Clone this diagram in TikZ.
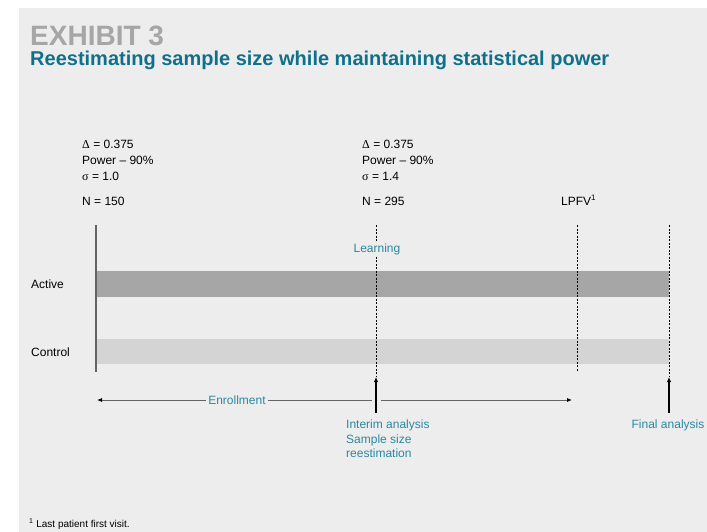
\documentclass[tikz,border=0pt]{standalone}
\usepackage{fontspec}
\setmainfont{Liberation Sans}
\newfontfamily\greekfont{Liberation Serif}
\usetikzlibrary{arrows.meta,positioning}
\definecolor{panel}{RGB}{237,237,237}
\definecolor{exhgray}{RGB}{166,166,166}
\definecolor{titleteal}{RGB}{16,112,138}
\definecolor{labelteal}{RGB}{42,136,162}
\definecolor{activebar}{RGB}{166,166,166}
\definecolor{controlbar}{RGB}{212,212,212}
\definecolor{axisgray}{RGB}{100,100,100}

\begin{document}
\begin{tikzpicture}[x=1pt,y=-1pt,
    txt/.style={anchor=base west,inner sep=0pt,font=\fontsize{12}{14}\selectfont},
    lbl/.style={txt,text=labelteal},
    milestone/.style={draw=black,dash pattern=on 2pt off 1.5pt,line width=0.8pt},
    event/.style={-{Latex[length=5pt,width=4.5pt]},line width=1.4pt},
    span/.style={draw=axisgray,line width=0.8pt}
    ]
    \useasboundingbox (0,0) rectangle (707,532);
    \fill[white] (0,0) rectangle (707,532);
    \fill[panel] (19,8) rectangle (707,532);

    % Heading
    \node[txt,font=\fontsize{28}{30}\selectfont\bfseries,text=exhgray] (exh) at (30,46) {EXHIBIT 3};
    \node[txt,font=\fontsize{20}{22}\selectfont\bfseries,text=titleteal] (title) at (30,66) {Reestimating sample size while maintaining statistical power};

    % Design at start
    \node[txt] (d1) at (82,149) {{\greekfont Δ} = 0.375};
    \node[txt] (p1) at (82,164.5) {Power – 90\%};
    \node[txt] (s1) at (82,180) {{\greekfont σ} = 1.0};
    \node[txt] (n1) at (82,205) {N = 150};

    % Design at interim
    \node[txt] (d2) at (362,149) {{\greekfont Δ} = 0.375};
    \node[txt] (p2) at (362,164.5) {Power – 90\%};
    \node[txt] (s2) at (362,180) {{\greekfont σ} = 1.4};
    \node[txt] (n2) at (362,205) {N = 295};
    \node[txt] (lpfv) at (561,205) {LPFV\textsuperscript{1}};

    % Arms
    \fill[activebar] (96,271) rectangle (669,297);
    \fill[controlbar] (96,339) rectangle (669,364);
    \draw[axisgray,line width=1.2pt] (96,225) -- (96,372);
    \node[txt] (active) at (31,288) {Active};
    \node[txt] (control) at (31,356) {Control};

    % Milestones
    \coordinate (top1) at (376,225);
    \coordinate (bot1) at (376,377);
    \coordinate (top2) at (577,225);
    \coordinate (bot2) at (577,371);
    \coordinate (top3) at (669,225);
    \coordinate (bot3) at (669,377);
    \draw[milestone] (top1) -- (bot1);
    \draw[milestone] (top2) -- (bot2);
    \draw[milestone] (top3) -- (bot3);
    \node[lbl,anchor=base,fill=panel,inner sep=1.5pt] (learn) at (377,252) {Learning};

    % Analyses
    \coordinate (ia) at (376,413);
    \coordinate (fa) at (669,413);
    \draw[event] (ia) -- (bot1);
    \draw[event] (fa) -- (bot3);

    % Enrollment span
    \coordinate (enl) at (97,400);
    \coordinate (gapl) at (372,400);
    \coordinate (gapr) at (381,400);
    \coordinate (enr) at (572,400);
    \draw[span,{Latex[length=5pt,width=4pt,black]}-] (enl) -- (gapl);
    \draw[span,-{Latex[length=5pt,width=4pt,black]}] (gapr) -- (enr);
    \node[lbl,anchor=center,fill=panel,inner xsep=2pt,inner ysep=1pt] (enroll) at (237,400) {Enrollment};

    \node[lbl] (ia1) at (346,428.5) {Interim analysis};
    \node[lbl] (ia2) at (346,443) {Sample size};
    \node[lbl] (ia3) at (346,457.5) {reestimation};
    \node[lbl,anchor=base] (fa1) at (668,428) {Final analysis};

    % Footnote
    \node[txt,font=\fontsize{10}{12}\selectfont] (fn) at (29,527) {\textsuperscript{1} Last patient first visit.};
\end{tikzpicture}
\end{document}
